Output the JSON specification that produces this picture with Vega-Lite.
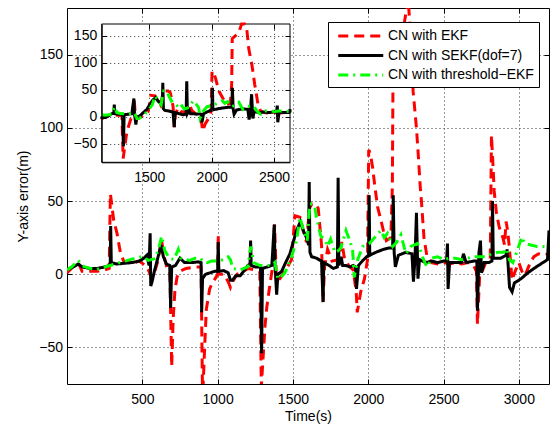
{
  "$schema": "https://vega.github.io/schema/vega-lite/v6.json",
  "width": 482,
  "height": 376,
  "autosize": {"type": "none"},
  "padding": {"left": 67, "top": 8, "right": 4, "bottom": 42},
  "background": "white",
  "config": {
    "view": {"stroke": null},
    "font": "Liberation Sans",
    "axis": {
      "labelFont": "Liberation Sans", "labelFontSize": 14, "labelColor": "#000",
      "titleFont": "Liberation Sans", "titleFontSize": 14, "titleFontWeight": "normal", "titleColor": "#000",
      "domainColor": "#000", "domainWidth": 1, "tickColor": "#000", "tickWidth": 1, "tickSize": -5,
      "gridColor": "#333", "gridDash": [1, 3], "gridWidth": 1, "gridOpacity": 1,
      "labelFlush": false, "labelOverlap": false, "zindex": 0
    }
  },
  "data": {"values": [
    {"s":"EKF","t":0,"v":1},{"s":"EKF","t":40,"v":5},{"s":"EKF","t":75,"v":8},{"s":"EKF","t":100,"v":2},{"s":"EKF","t":150,"v":2},{"s":"EKF","t":200,"v":2},{"s":"EKF","t":250,"v":3},{"s":"EKF","t":280,"v":4},{"s":"EKF","t":288,"v":55},{"s":"EKF","t":310,"v":37},{"s":"EKF","t":332,"v":28},{"s":"EKF","t":354,"v":15},{"s":"EKF","t":376,"v":9},{"s":"EKF","t":430,"v":7.5},{"s":"EKF","t":480,"v":9},{"s":"EKF","t":520,"v":6},{"s":"EKF","t":540,"v":3},{"s":"EKF","t":560,"v":-2},{"s":"EKF","t":580,"v":1},{"s":"EKF","t":600,"v":8},{"s":"EKF","t":628,"v":23},{"s":"EKF","t":645,"v":12},{"s":"EKF","t":665,"v":4},{"s":"EKF","t":683,"v":2},{"s":"EKF","t":695,"v":-63},{"s":"EKF","t":705,"v":-30},{"s":"EKF","t":716,"v":-12},{"s":"EKF","t":730,"v":-2},{"s":"EKF","t":750,"v":2},{"s":"EKF","t":790,"v":4},{"s":"EKF","t":850,"v":5},{"s":"EKF","t":890,"v":5},{"s":"EKF","t":900,"v":-85},{"s":"EKF","t":910,"v":-60},{"s":"EKF","t":918,"v":-40},{"s":"EKF","t":925,"v":-24},{"s":"EKF","t":947,"v":-10},{"s":"EKF","t":970,"v":-5},{"s":"EKF","t":990,"v":-2},{"s":"EKF","t":1000,"v":0},{"s":"EKF","t":1004,"v":27},{"s":"EKF","t":1008,"v":0},{"s":"EKF","t":1040,"v":0},{"s":"EKF","t":1070,"v":-5},{"s":"EKF","t":1085,"v":-9},{"s":"EKF","t":1100,"v":-5},{"s":"EKF","t":1130,"v":0},{"s":"EKF","t":1170,"v":2},{"s":"EKF","t":1203,"v":4},{"s":"EKF","t":1250,"v":3},{"s":"EKF","t":1280,"v":2},{"s":"EKF","t":1290,"v":-77},{"s":"EKF","t":1300,"v":-60},{"s":"EKF","t":1315,"v":-35},{"s":"EKF","t":1327,"v":-22},{"s":"EKF","t":1350,"v":-5},{"s":"EKF","t":1365,"v":5},{"s":"EKF","t":1378,"v":34},{"s":"EKF","t":1390,"v":-3},{"s":"EKF","t":1413,"v":-3},{"s":"EKF","t":1447,"v":2},{"s":"EKF","t":1491,"v":10},{"s":"EKF","t":1513,"v":40},{"s":"EKF","t":1546,"v":39},{"s":"EKF","t":1568,"v":30},{"s":"EKF","t":1590,"v":22},{"s":"EKF","t":1610,"v":45},{"s":"EKF","t":1625,"v":48},{"s":"EKF","t":1650,"v":48},{"s":"EKF","t":1668,"v":45},{"s":"EKF","t":1690,"v":20},{"s":"EKF","t":1700,"v":-19},{"s":"EKF","t":1710,"v":5},{"s":"EKF","t":1730,"v":17},{"s":"EKF","t":1760,"v":9},{"s":"EKF","t":1800,"v":10},{"s":"EKF","t":1825,"v":22},{"s":"EKF","t":1840,"v":12},{"s":"EKF","t":1870,"v":6},{"s":"EKF","t":1900,"v":3},{"s":"EKF","t":1920,"v":-12},{"s":"EKF","t":1927,"v":-26},{"s":"EKF","t":1950,"v":-12},{"s":"EKF","t":1975,"v":-3},{"s":"EKF","t":1995,"v":10},{"s":"EKF","t":2003,"v":85},{"s":"EKF","t":2015,"v":82},{"s":"EKF","t":2029,"v":73},{"s":"EKF","t":2044,"v":60},{"s":"EKF","t":2062,"v":46},{"s":"EKF","t":2084,"v":37},{"s":"EKF","t":2100,"v":30},{"s":"EKF","t":2120,"v":23},{"s":"EKF","t":2150,"v":25},{"s":"EKF","t":2160,"v":60},{"s":"EKF","t":2165,"v":145},{"s":"EKF","t":2180,"v":148},{"s":"EKF","t":2200,"v":152},{"s":"EKF","t":2220,"v":158},{"s":"EKF","t":2240,"v":172},{"s":"EKF","t":2255,"v":182},{"s":"EKF","t":2265,"v":188},{"s":"EKF","t":2280,"v":165},{"s":"EKF","t":2298,"v":125},{"s":"EKF","t":2320,"v":100},{"s":"EKF","t":2330,"v":85},{"s":"EKF","t":2345,"v":60},{"s":"EKF","t":2353,"v":50},{"s":"EKF","t":2370,"v":25},{"s":"EKF","t":2390,"v":12},{"s":"EKF","t":2420,"v":8},{"s":"EKF","t":2460,"v":7},{"s":"EKF","t":2500,"v":8},{"s":"EKF","t":2540,"v":7},{"s":"EKF","t":2580,"v":8},{"s":"EKF","t":2620,"v":7},{"s":"EKF","t":2660,"v":8},{"s":"EKF","t":2700,"v":6},{"s":"EKF","t":2718,"v":2},{"s":"EKF","t":2725,"v":-34},{"s":"EKF","t":2740,"v":0},{"s":"EKF","t":2752,"v":1},{"s":"EKF","t":2780,"v":8},{"s":"EKF","t":2810,"v":10},{"s":"EKF","t":2818,"v":95},{"s":"EKF","t":2829,"v":73},{"s":"EKF","t":2836,"v":57},{"s":"EKF","t":2851,"v":42},{"s":"EKF","t":2870,"v":32},{"s":"EKF","t":2894,"v":25},{"s":"EKF","t":2905,"v":20},{"s":"EKF","t":2915,"v":36},{"s":"EKF","t":2925,"v":30},{"s":"EKF","t":2935,"v":20},{"s":"EKF","t":2945,"v":8},{"s":"EKF","t":2955,"v":-4},{"s":"EKF","t":2975,"v":2},{"s":"EKF","t":3000,"v":8},{"s":"EKF","t":3020,"v":2},{"s":"EKF","t":3040,"v":-1},{"s":"EKF","t":3060,"v":4},{"s":"EKF","t":3080,"v":9},{"s":"EKF","t":3100,"v":12},{"s":"EKF","t":3130,"v":14},{"s":"EKF","t":3160,"v":13},{"s":"EKF","t":3200,"v":14},
    {"s":"SEKF","t":0,"v":3},{"s":"SEKF","t":40,"v":5},{"s":"SEKF","t":75,"v":7},{"s":"SEKF","t":100,"v":5},{"s":"SEKF","t":150,"v":4},{"s":"SEKF","t":200,"v":4},{"s":"SEKF","t":250,"v":5},{"s":"SEKF","t":280,"v":6},{"s":"SEKF","t":287,"v":7},{"s":"SEKF","t":290,"v":33},{"s":"SEKF","t":294,"v":8},{"s":"SEKF","t":330,"v":7},{"s":"SEKF","t":380,"v":7.5},{"s":"SEKF","t":430,"v":8},{"s":"SEKF","t":480,"v":9},{"s":"SEKF","t":510,"v":11},{"s":"SEKF","t":530,"v":13},{"s":"SEKF","t":545,"v":6},{"s":"SEKF","t":552,"v":28},{"s":"SEKF","t":556,"v":-8},{"s":"SEKF","t":565,"v":-5},{"s":"SEKF","t":580,"v":2},{"s":"SEKF","t":600,"v":10},{"s":"SEKF","t":624,"v":20},{"s":"SEKF","t":640,"v":12},{"s":"SEKF","t":660,"v":7},{"s":"SEKF","t":682,"v":6},{"s":"SEKF","t":688,"v":-23},{"s":"SEKF","t":695,"v":5},{"s":"SEKF","t":720,"v":6},{"s":"SEKF","t":750,"v":11},{"s":"SEKF","t":780,"v":8},{"s":"SEKF","t":830,"v":8},{"s":"SEKF","t":870,"v":8.5},{"s":"SEKF","t":890,"v":8},{"s":"SEKF","t":894,"v":-26},{"s":"SEKF","t":900,"v":-3},{"s":"SEKF","t":920,"v":0},{"s":"SEKF","t":950,"v":1},{"s":"SEKF","t":980,"v":2},{"s":"SEKF","t":1000,"v":2},{"s":"SEKF","t":1004,"v":22},{"s":"SEKF","t":1008,"v":2},{"s":"SEKF","t":1040,"v":2.5},{"s":"SEKF","t":1070,"v":1},{"s":"SEKF","t":1085,"v":-4},{"s":"SEKF","t":1100,"v":-4},{"s":"SEKF","t":1120,"v":-1},{"s":"SEKF","t":1150,"v":-1},{"s":"SEKF","t":1180,"v":3},{"s":"SEKF","t":1200,"v":6},{"s":"SEKF","t":1215,"v":7},{"s":"SEKF","t":1219,"v":23},{"s":"SEKF","t":1223,"v":6},{"s":"SEKF","t":1250,"v":5},{"s":"SEKF","t":1285,"v":5},{"s":"SEKF","t":1292,"v":-54},{"s":"SEKF","t":1298,"v":4},{"s":"SEKF","t":1330,"v":5},{"s":"SEKF","t":1360,"v":6},{"s":"SEKF","t":1376,"v":34},{"s":"SEKF","t":1381,"v":6},{"s":"SEKF","t":1392,"v":-14},{"s":"SEKF","t":1400,"v":0},{"s":"SEKF","t":1425,"v":2},{"s":"SEKF","t":1447,"v":7},{"s":"SEKF","t":1480,"v":14},{"s":"SEKF","t":1524,"v":30},{"s":"SEKF","t":1550,"v":36},{"s":"SEKF","t":1568,"v":30},{"s":"SEKF","t":1590,"v":25},{"s":"SEKF","t":1604,"v":20},{"s":"SEKF","t":1608,"v":63},{"s":"SEKF","t":1613,"v":15},{"s":"SEKF","t":1624,"v":12},{"s":"SEKF","t":1657,"v":11},{"s":"SEKF","t":1690,"v":9},{"s":"SEKF","t":1700,"v":-19},{"s":"SEKF","t":1705,"v":8},{"s":"SEKF","t":1740,"v":6},{"s":"SEKF","t":1768,"v":4},{"s":"SEKF","t":1795,"v":5},{"s":"SEKF","t":1800,"v":66},{"s":"SEKF","t":1805,"v":6},{"s":"SEKF","t":1820,"v":12},{"s":"SEKF","t":1830,"v":6},{"s":"SEKF","t":1850,"v":6},{"s":"SEKF","t":1880,"v":5},{"s":"SEKF","t":1900,"v":6},{"s":"SEKF","t":1915,"v":5},{"s":"SEKF","t":1922,"v":-10},{"s":"SEKF","t":1935,"v":6},{"s":"SEKF","t":1960,"v":9},{"s":"SEKF","t":1990,"v":12},{"s":"SEKF","t":2002,"v":13},{"s":"SEKF","t":2006,"v":54},{"s":"SEKF","t":2010,"v":13},{"s":"SEKF","t":2050,"v":15},{"s":"SEKF","t":2100,"v":17},{"s":"SEKF","t":2140,"v":18},{"s":"SEKF","t":2162,"v":18},{"s":"SEKF","t":2166,"v":54},{"s":"SEKF","t":2172,"v":15},{"s":"SEKF","t":2180,"v":5},{"s":"SEKF","t":2200,"v":13},{"s":"SEKF","t":2250,"v":15},{"s":"SEKF","t":2290,"v":14},{"s":"SEKF","t":2300,"v":-5},{"s":"SEKF","t":2310,"v":10},{"s":"SEKF","t":2320,"v":42},{"s":"SEKF","t":2330,"v":-3},{"s":"SEKF","t":2340,"v":10},{"s":"SEKF","t":2380,"v":8},{"s":"SEKF","t":2420,"v":9},{"s":"SEKF","t":2460,"v":8},{"s":"SEKF","t":2500,"v":9},{"s":"SEKF","t":2520,"v":9},{"s":"SEKF","t":2526,"v":21},{"s":"SEKF","t":2530,"v":-10},{"s":"SEKF","t":2540,"v":8},{"s":"SEKF","t":2580,"v":8},{"s":"SEKF","t":2620,"v":8},{"s":"SEKF","t":2632,"v":14},{"s":"SEKF","t":2650,"v":8},{"s":"SEKF","t":2700,"v":9},{"s":"SEKF","t":2721,"v":9},{"s":"SEKF","t":2725,"v":-25},{"s":"SEKF","t":2735,"v":15},{"s":"SEKF","t":2745,"v":23},{"s":"SEKF","t":2752,"v":1},{"s":"SEKF","t":2770,"v":8},{"s":"SEKF","t":2800,"v":8},{"s":"SEKF","t":2821,"v":9},{"s":"SEKF","t":2825,"v":50},{"s":"SEKF","t":2830,"v":11},{"s":"SEKF","t":2880,"v":11},{"s":"SEKF","t":2915,"v":13},{"s":"SEKF","t":2922,"v":17},{"s":"SEKF","t":2938,"v":-9},{"s":"SEKF","t":2955,"v":-12},{"s":"SEKF","t":2970,"v":-6},{"s":"SEKF","t":3015,"v":-3},{"s":"SEKF","t":3060,"v":1},{"s":"SEKF","t":3100,"v":4},{"s":"SEKF","t":3145,"v":7},{"s":"SEKF","t":3190,"v":10},{"s":"SEKF","t":3200,"v":30},
    {"s":"TH","t":0,"v":3},{"s":"TH","t":30,"v":5},{"s":"TH","t":75,"v":9.5},{"s":"TH","t":100,"v":6},{"s":"TH","t":120,"v":5},{"s":"TH","t":187,"v":3},{"s":"TH","t":252,"v":5},{"s":"TH","t":318,"v":7},{"s":"TH","t":385,"v":9},{"s":"TH","t":451,"v":11},{"s":"TH","t":495,"v":12},{"s":"TH","t":520,"v":11},{"s":"TH","t":540,"v":9.5},{"s":"TH","t":584,"v":10.7},{"s":"TH","t":610,"v":18},{"s":"TH","t":628,"v":26},{"s":"TH","t":650,"v":16},{"s":"TH","t":680,"v":11},{"s":"TH","t":710,"v":10},{"s":"TH","t":739,"v":17},{"s":"TH","t":755,"v":11},{"s":"TH","t":816,"v":9.5},{"s":"TH","t":850,"v":11},{"s":"TH","t":886,"v":11},{"s":"TH","t":900,"v":9},{"s":"TH","t":930,"v":8},{"s":"TH","t":960,"v":9},{"s":"TH","t":1000,"v":9},{"s":"TH","t":1040,"v":10},{"s":"TH","t":1070,"v":12},{"s":"TH","t":1085,"v":10},{"s":"TH","t":1100,"v":4},{"s":"TH","t":1150,"v":3},{"s":"TH","t":1200,"v":5},{"s":"TH","t":1220,"v":19},{"s":"TH","t":1240,"v":8},{"s":"TH","t":1280,"v":6},{"s":"TH","t":1320,"v":6},{"s":"TH","t":1360,"v":6},{"s":"TH","t":1380,"v":8},{"s":"TH","t":1400,"v":-3},{"s":"TH","t":1413,"v":-3},{"s":"TH","t":1447,"v":1},{"s":"TH","t":1491,"v":12},{"s":"TH","t":1524,"v":23},{"s":"TH","t":1546,"v":39},{"s":"TH","t":1568,"v":31},{"s":"TH","t":1580,"v":28},{"s":"TH","t":1595,"v":23},{"s":"TH","t":1612,"v":48},{"s":"TH","t":1630,"v":48},{"s":"TH","t":1645,"v":46},{"s":"TH","t":1656,"v":39},{"s":"TH","t":1667,"v":34},{"s":"TH","t":1685,"v":26},{"s":"TH","t":1710,"v":24},{"s":"TH","t":1730,"v":19},{"s":"TH","t":1750,"v":24},{"s":"TH","t":1778,"v":15},{"s":"TH","t":1800,"v":16},{"s":"TH","t":1818,"v":18},{"s":"TH","t":1852,"v":30},{"s":"TH","t":1874,"v":24},{"s":"TH","t":1896,"v":17},{"s":"TH","t":1907,"v":-2},{"s":"TH","t":1930,"v":10},{"s":"TH","t":1963,"v":19},{"s":"TH","t":2007,"v":21},{"s":"TH","t":2051,"v":26},{"s":"TH","t":2084,"v":30},{"s":"TH","t":2106,"v":25},{"s":"TH","t":2128,"v":28},{"s":"TH","t":2162,"v":19},{"s":"TH","t":2190,"v":22},{"s":"TH","t":2217,"v":27},{"s":"TH","t":2250,"v":14},{"s":"TH","t":2283,"v":19},{"s":"TH","t":2327,"v":21},{"s":"TH","t":2345,"v":17},{"s":"TH","t":2360,"v":12},{"s":"TH","t":2380,"v":7},{"s":"TH","t":2394,"v":5},{"s":"TH","t":2420,"v":11},{"s":"TH","t":2460,"v":12},{"s":"TH","t":2500,"v":10},{"s":"TH","t":2540,"v":11},{"s":"TH","t":2580,"v":11},{"s":"TH","t":2620,"v":10},{"s":"TH","t":2660,"v":11},{"s":"TH","t":2700,"v":12},{"s":"TH","t":2740,"v":12},{"s":"TH","t":2780,"v":12},{"s":"TH","t":2820,"v":14},{"s":"TH","t":2860,"v":15},{"s":"TH","t":2900,"v":15},{"s":"TH","t":2920,"v":17.5},{"s":"TH","t":2938,"v":9.6},{"s":"TH","t":2960,"v":8},{"s":"TH","t":2990,"v":16.5},{"s":"TH","t":3020,"v":25.5},{"s":"TH","t":3040,"v":21},{"s":"TH","t":3080,"v":20},{"s":"TH","t":3120,"v":19},{"s":"TH","t":3160,"v":19},{"s":"TH","t":3200,"v":18}
  ]},
  "resolve": {"scale": {"x": "independent", "y": "independent"}},
  "layer": [
    {
      "resolve": {"axis": {"x": "independent", "y": "independent"}},
      "layer": [
        {
          "transform": [{"filter": "datum.s === 'EKF'"}],
          "mark": {"type": "line", "strokeWidth": 3, "clip": true},
          "encoding": {
            "x": {"field": "t", "type": "quantitative", "scale": {"domain": [0, 3200], "nice": false, "zero": false},
                  "axis": {"orient": "bottom", "values": [500, 1000, 1500, 2000, 2500, 3000], "format": "d", "title": "Time(s)", "grid": true, "labelPadding": 13, "titlePadding": 3, "zindex": 0}},
            "y": {"field": "v", "type": "quantitative", "scale": {"domain": [-75, 182], "nice": false, "zero": false},
                  "axis": {"orient": "left", "values": [-50, 0, 50, 100, 150], "format": "d", "title": "Y-axis error(m)", "grid": true, "labelPadding": 9.5, "titlePadding": 8, "zindex": 0}},
            "color": {"field": "s", "type": "nominal", "scale": {"domain": ["EKF", "SEKF", "TH"], "range": ["#ff0000", "#000000", "#00ff00"]},
                      "legend": {"title": null, "orient": "none", "legendX": 261, "legendY": 14, "labelExpr": "datum.label === 'EKF' ? 'CN with EKF' : datum.label === 'SEKF' ? 'CN with SEKF(dof=7)' : 'CN with threshold\u2212EKF'", "symbolType": "M-0.5,0H5.5", "symbolSize": 225, "symbolStrokeWidth": 3, "labelOffset": 37, "labelFont": "Liberation Sans", "labelFontSize": 14, "labelColor": "#000", "labelLimit": 300, "strokeColor": "#000", "fillColor": "#fff", "padding": 5, "rowPadding": 3.5, "cornerRadius": 0}},
            "strokeDash": {"field": "s", "type": "nominal", "scale": {"domain": ["EKF", "SEKF", "TH"], "range": [[10, 6], [1, 0], [10, 5, 2, 5]]},
                      "legend": {"title": null, "orient": "none", "legendX": 261, "legendY": 14, "labelExpr": "datum.label === 'EKF' ? 'CN with EKF' : datum.label === 'SEKF' ? 'CN with SEKF(dof=7)' : 'CN with threshold\u2212EKF'", "symbolType": "M-0.5,0H5.5", "symbolSize": 225, "symbolStrokeWidth": 3, "labelOffset": 37, "labelFont": "Liberation Sans", "labelFontSize": 14, "labelColor": "#000", "labelLimit": 300, "strokeColor": "#000", "fillColor": "#fff", "padding": 5, "rowPadding": 3.5, "cornerRadius": 0}}
          }
        },
        {
          "transform": [{"filter": "datum.s === 'SEKF'"}],
          "mark": {"type": "line", "strokeWidth": 3, "clip": true},
          "encoding": {
            "x": {"field": "t", "type": "quantitative", "scale": {"domain": [0, 3200], "nice": false, "zero": false},
                  "axis": {"orient": "top", "values": [500, 1000, 1500, 2000, 2500, 3000], "labels": false, "title": null, "grid": false, "zindex": 0}},
            "y": {"field": "v", "type": "quantitative", "scale": {"domain": [-75, 182], "nice": false, "zero": false},
                  "axis": {"orient": "right", "values": [-50, 0, 50, 100, 150], "labels": false, "title": null, "grid": false, "zindex": 0}},
            "color": {"field": "s", "type": "nominal", "scale": {"domain": ["EKF", "SEKF", "TH"], "range": ["#ff0000", "#000000", "#00ff00"]}},
            "strokeDash": {"field": "s", "type": "nominal", "scale": {"domain": ["EKF", "SEKF", "TH"], "range": [[10, 6], [1, 0], [10, 5, 2, 5]]}}
          }
        },
        {
          "transform": [{"filter": "datum.s === 'TH'"}],
          "mark": {"type": "line", "strokeWidth": 3, "clip": true},
          "encoding": {
            "x": {"field": "t", "type": "quantitative", "scale": {"domain": [0, 3200], "nice": false, "zero": false}, "axis": null},
            "y": {"field": "v", "type": "quantitative", "scale": {"domain": [-75, 182], "nice": false, "zero": false}, "axis": null},
            "color": {"field": "s", "type": "nominal", "scale": {"domain": ["EKF", "SEKF", "TH"], "range": ["#ff0000", "#000000", "#00ff00"]}},
            "strokeDash": {"field": "s", "type": "nominal", "scale": {"domain": ["EKF", "SEKF", "TH"], "range": [[10, 6], [1, 0], [10, 5, 2, 5]]}}
          }
        }
      ]
    },
    {
      "resolve": {"axis": {"x": "independent", "y": "independent"}},
      "layer": [
        {
          "transform": [{"aggregate": [{"op": "count", "as": "n"}]}],
          "mark": {"type": "rect", "fill": "#fff", "stroke": "#000", "strokeWidth": 1},
          "encoding": {
            "x": {"datum": 1118, "type": "quantitative", "scale": {"domain": [1118, 2628], "range": [34.7, 223], "nice": false, "zero": false, "clamp": true},
                  "axis": {"orient": "top", "offset": -16, "values": [1500, 2000, 2500], "labels": false, "title": null, "grid": true, "domain": false, "zindex": 1}},
            "x2": {"datum": 2628},
            "y": {"datum": -84, "type": "quantitative", "scale": {"domain": [-84, 172], "range": [154.3, 16], "nice": false, "zero": false, "clamp": true},
                  "axis": {"orient": "left", "offset": -34.7, "values": [-50, 0, 50, 100, 150], "format": "d", "title": null, "grid": true, "labelPadding": 10, "zindex": 1}},
            "y2": {"datum": 172}
          }
        },
        {
          "transform": [{"filter": "datum.s === 'EKF' && datum.t >= 1090 && datum.t <= 2660"}],
          "mark": {"type": "line", "strokeWidth": 3},
          "encoding": {
            "x": {"field": "t", "type": "quantitative", "scale": {"domain": [1118, 2628], "range": [34.7, 223], "nice": false, "zero": false, "clamp": true},
                  "axis": {"orient": "bottom", "offset": -221.7, "values": [1500, 2000, 2500], "format": "d", "title": null, "grid": false, "labelPadding": 13, "zindex": 1}},
            "y": {"field": "v", "type": "quantitative", "scale": {"domain": [-84, 172], "range": [154.3, 16], "nice": false, "zero": false, "clamp": true},
                  "axis": {"orient": "right", "offset": -259, "values": [-50, 0, 50, 100, 150], "labels": false, "title": null, "grid": false, "domain": false, "zindex": 1}},
            "color": {"field": "s", "type": "nominal", "scale": {"domain": ["EKF", "SEKF", "TH"], "range": ["#ff0000", "#000000", "#00ff00"]}},
            "strokeDash": {"field": "s", "type": "nominal", "scale": {"domain": ["EKF", "SEKF", "TH"], "range": [[10, 6], [1, 0], [10, 5, 2, 5]]}}
          }
        },
        {
          "transform": [{"filter": "datum.s === 'SEKF' && datum.t >= 1090 && datum.t <= 2660"}],
          "mark": {"type": "line", "strokeWidth": 3},
          "encoding": {
            "x": {"field": "t", "type": "quantitative", "scale": {"domain": [1118, 2628], "range": [34.7, 223], "nice": false, "zero": false, "clamp": true}, "axis": null},
            "y": {"field": "v", "type": "quantitative", "scale": {"domain": [-84, 172], "range": [154.3, 16], "nice": false, "zero": false, "clamp": true}, "axis": null},
            "color": {"field": "s", "type": "nominal", "scale": {"domain": ["EKF", "SEKF", "TH"], "range": ["#ff0000", "#000000", "#00ff00"]}},
            "strokeDash": {"field": "s", "type": "nominal", "scale": {"domain": ["EKF", "SEKF", "TH"], "range": [[10, 6], [1, 0], [10, 5, 2, 5]]}}
          }
        },
        {
          "transform": [{"filter": "datum.s === 'TH' && datum.t >= 1090 && datum.t <= 2660"}],
          "mark": {"type": "line", "strokeWidth": 3},
          "encoding": {
            "x": {"field": "t", "type": "quantitative", "scale": {"domain": [1118, 2628], "range": [34.7, 223], "nice": false, "zero": false, "clamp": true}, "axis": null},
            "y": {"field": "v", "type": "quantitative", "scale": {"domain": [-84, 172], "range": [154.3, 16], "nice": false, "zero": false, "clamp": true}, "axis": null},
            "color": {"field": "s", "type": "nominal", "scale": {"domain": ["EKF", "SEKF", "TH"], "range": ["#ff0000", "#000000", "#00ff00"]}},
            "strokeDash": {"field": "s", "type": "nominal", "scale": {"domain": ["EKF", "SEKF", "TH"], "range": [[10, 6], [1, 0], [10, 5, 2, 5]]}}
          }
        }
      ]
    }
  ]
}
